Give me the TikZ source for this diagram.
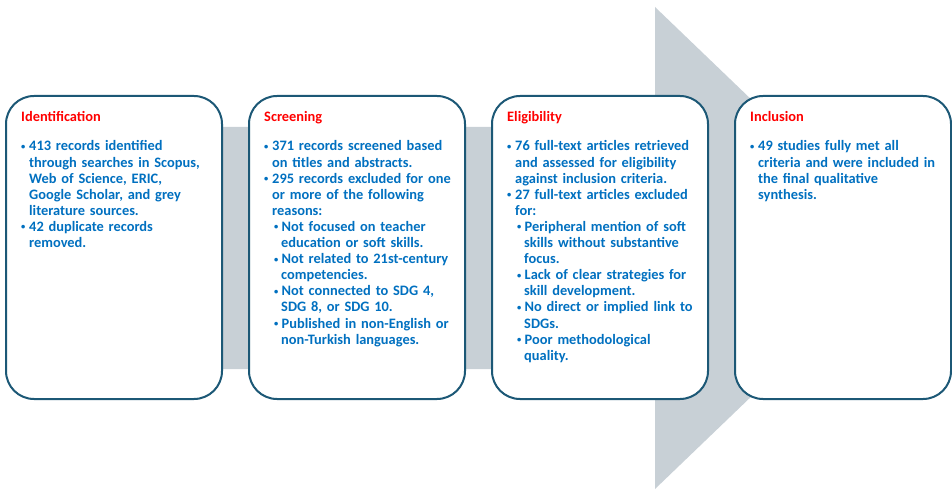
\documentclass[tikz,border=0pt]{standalone}
\usepackage{fontspec}
\setmainfont{Carlito}
\usetikzlibrary{positioning}

\definecolor{flowgray}{RGB}{200,208,214}
\definecolor{boxline}{RGB}{28,88,118}
\definecolor{itemblue}{RGB}{0,112,192}
\definecolor{headred}{RGB}{255,0,0}

% list entries: first and second level bullets
\newcommand{\dotmark}{\raisebox{1.6pt}{\fontsize{8.5}{8.5}\selectfont\textbullet}}
\newcommand{\itm}[1]{\par\hangindent=8pt\hangafter=1\noindent\makebox[8pt][l]{\dotmark}#1}
\newcommand{\sitm}[1]{\par\hangindent=17pt\hangafter=1\noindent\hspace*{10pt}\makebox[7.5pt][l]{\dotmark}#1}
\newcommand{\stagehead}[1]{{\color{headred}#1}\par\vspace{12.9pt}}

\begin{document}
\begin{tikzpicture}[x=1pt,y=1pt,
  stage/.style={draw=boxline, line width=2pt, fill=white, rounded corners=28pt,
    minimum width=216pt, minimum height=303pt, inner sep=0pt, outer sep=0pt},
  stagetext/.style={anchor=base west, text width=205pt, align=left, inner sep=0pt,
    font=\bfseries\fontsize{14.4}{16.1}\selectfont, text=itemblue}]

\useasboundingbox (0,0) rectangle (952,490);

% flow arrow behind the stages
\fill[flowgray] (100,363) -- (655,363) -- (655,483) -- (906,242) -- (655,1)
  -- (655,121) -- (100,121) -- cycle;

% stages
\node[stage] (ident) at (114,242.5) {};
\node[stage, right=27pt of ident] (screen) {};
\node[stage, right=27pt of screen] (elig) {};
\node[stage, right=27pt of elig] (incl) {};

\node[stagetext] (identtext) at ([xshift=15pt,yshift=-26pt]ident.north west) {%
  \stagehead{Identification}
  \itm{413 records identified\newline through searches in Scopus,\newline Web of Science, ERIC,\newline Google Scholar, and grey\newline literature sources.}
  \itm{42 duplicate records\newline removed.}\par};

\node[stagetext] (screentext) at ([xshift=15pt,yshift=-26pt]screen.north west) {%
  \stagehead{Screening}
  \itm{371 records screened based\newline on titles and abstracts.}
  \itm{295 records excluded for one\newline or more of the following\newline reasons:}
  \sitm{Not focused on teacher\newline education or soft skills.}
  \sitm{Not related to 21st-century\newline competencies.}
  \sitm{Not connected to SDG 4,\newline SDG 8, or SDG 10.}
  \sitm{Published in non-English or\newline non-Turkish languages.}\par};

\node[stagetext] (eligtext) at ([xshift=15pt,yshift=-26pt]elig.north west) {%
  \stagehead{Eligibility}
  \itm{76 full-text articles retrieved\newline and assessed for eligibility\newline against inclusion criteria.}
  \itm{27 full-text articles excluded\newline for:}
  \sitm{Peripheral mention of soft\newline skills without substantive\newline focus.}
  \sitm{Lack of clear strategies for\newline skill development.}
  \sitm{No direct or implied link to\newline SDGs.}
  \sitm{Poor methodological\newline quality.}\par};

\node[stagetext] (incltext) at ([xshift=15pt,yshift=-26pt]incl.north west) {%
  \stagehead{Inclusion}
  \itm{49 studies fully met all\newline criteria and were included in\newline the final qualitative\newline synthesis.}\par};

\end{tikzpicture}
\end{document}
